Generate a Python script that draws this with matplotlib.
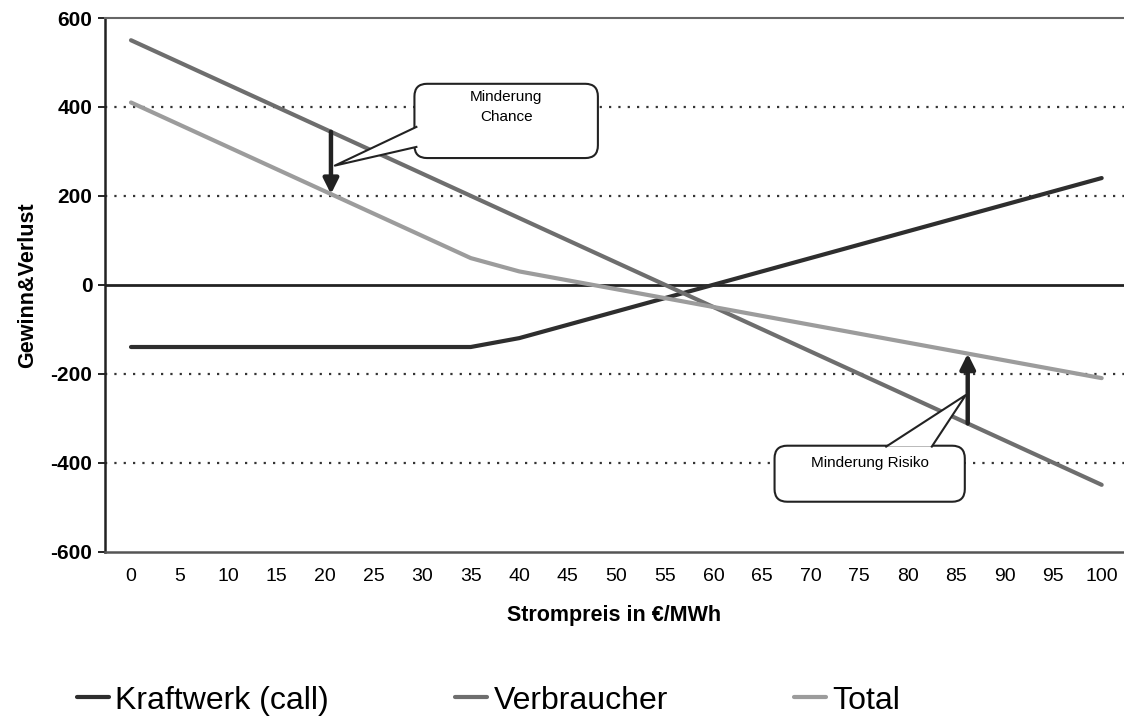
import matplotlib
matplotlib.use("Agg")
import matplotlib.pyplot as plt
from matplotlib.patches import FancyBboxPatch, Polygon
import numpy as np

# Strompreis in EUR/MWh and profit/loss per position
preis = [0, 5, 10, 15, 20, 25, 30, 35, 40, 45, 50, 55, 60, 65, 70, 75, 80, 85, 90, 95, 100]
kraftwerk = [-140, -140, -140, -140, -140, -140, -140, -140, -120, -90, -60, -30, 0,
             30, 60, 90, 120, 150, 180, 210, 240]
verbraucher = [550, 500, 450, 400, 350, 300, 250, 200, 150, 100, 50, 0, -50,
               -100, -150, -200, -250, -300, -350, -400, -450]
total = [410, 360, 310, 260, 210, 160, 110, 60, 30, 10, -10, -30, -50,
         -70, -90, -110, -130, -150, -170, -190, -210]
yticks = [-600, -400, -200, 0, 200, 400, 600]

plt.rcParams["font.family"] = ["Liberation Sans", "DejaVu Sans"]
plt.rcParams["axes.unicode_minus"] = False

fig = plt.figure(figsize=(11.24, 7.2), dpi=100)
ax = fig.add_axes([0.0934, 0.234, 0.9066, 0.741])

for y in [-400, -200, 200, 400]:
    ax.axhline(y, color="#333333", lw=1.6, ls=(0, (1, 3.2)), zorder=1)
ax.axhline(0, color="#222222", lw=2.0, zorder=2)

l1, = ax.plot(preis, kraftwerk, color="#2e2e2e", lw=3.0, zorder=3, solid_capstyle="round")
l2, = ax.plot(preis, verbraucher, color="#6e6e6e", lw=3.0, zorder=3, solid_capstyle="round")
l3, = ax.plot(preis, total, color="#9c9c9c", lw=3.0, zorder=3, solid_capstyle="round")

ax.set_xlim(-2.68, 102.3)
ax.set_ylim(-600, 600)
ax.set_xticks(preis)
ax.set_yticks(yticks)
ax.tick_params(axis="x", length=0, pad=12, labelsize=14)
ax.tick_params(axis="y", length=5, width=1.2, pad=4, labelsize=15)
for t in ax.get_yticklabels():
    t.set_fontweight("bold")

ax.spines["right"].set_visible(False)
ax.spines["left"].set_color("#222222")
ax.spines["left"].set_linewidth(1.8)
ax.spines["top"].set_color("#666666")
ax.spines["top"].set_linewidth(1.5)
ax.spines["bottom"].set_color("#555555")
ax.spines["bottom"].set_linewidth(1.8)

ax.set_xlabel("Strompreis in €/MWh", fontsize=15.5, fontweight="bold", labelpad=14)
ax.set_ylabel("Gewinn&Verlust", fontsize=15.5, fontweight="bold", labelpad=9)

# arrows between Verbraucher and Total
i_ch, i_ri = 20.6, 86.2
v_ch = np.interp(i_ch, preis, verbraucher)
t_ch = np.interp(i_ch, preis, total)
v_ri = np.interp(i_ri, preis, verbraucher)
t_ri = np.interp(i_ri, preis, total)
arrow = dict(arrowstyle="-|>,head_length=0.9,head_width=0.45", color="#222222",
             lw=3.2, shrinkA=0, shrinkB=0)
ax.annotate("", xy=(i_ch, t_ch), xytext=(i_ch, v_ch), arrowprops=arrow, zorder=5)
ax.annotate("", xy=(i_ri, t_ri), xytext=(i_ri, v_ri), arrowprops=arrow, zorder=5)

aspect = (1200 / 534) * (1019 / 104.98)


def callout(x0, y0, x1, y1, base, tip, text, ty):
    box = FancyBboxPatch((x0, y0), x1 - x0, y1 - y0,
                         boxstyle="round,pad=0,rounding_size=1.3",
                         mutation_aspect=aspect, fc="white", ec="#222222",
                         lw=1.5, zorder=6)
    ax.add_patch(box)
    (bx1, by1), (bx2, by2) = base
    ax.add_patch(Polygon([(bx1, by1), tip, (bx2, by2)], closed=True,
                         fc="white", ec="none", zorder=7))
    ax.plot([bx1, tip[0], bx2], [by1, tip[1], by2], color="#222222",
            lw=1.5, zorder=8)
    ax.text((x0 + x1) / 2, ty, text, ha="center", va="center", fontsize=11,
            linespacing=1.5, zorder=9)


callout(29.2, 285, 48.1, 452,
        [(29.4, 355), (29.4, 310)], (21.0, 268),
        "Minderung\nChance", 400)
callout(66.3, -488, 85.9, -362,
        [(77.8, -364), (82.5, -364)], (86.0, -248),
        "Minderung Risiko", -400)

fig.legend([l1, l2, l3], ["Kraftwerk (call)", "Verbraucher", "Total"],
           loc="center left", bbox_to_anchor=(0.0685, 0.027), ncol=3,
           frameon=False, fontsize=23, handlelength=1.0, handletextpad=0.2,
           columnspacing=3.95, borderpad=0, borderaxespad=0)

fig.savefig("out.png", dpi=100)
